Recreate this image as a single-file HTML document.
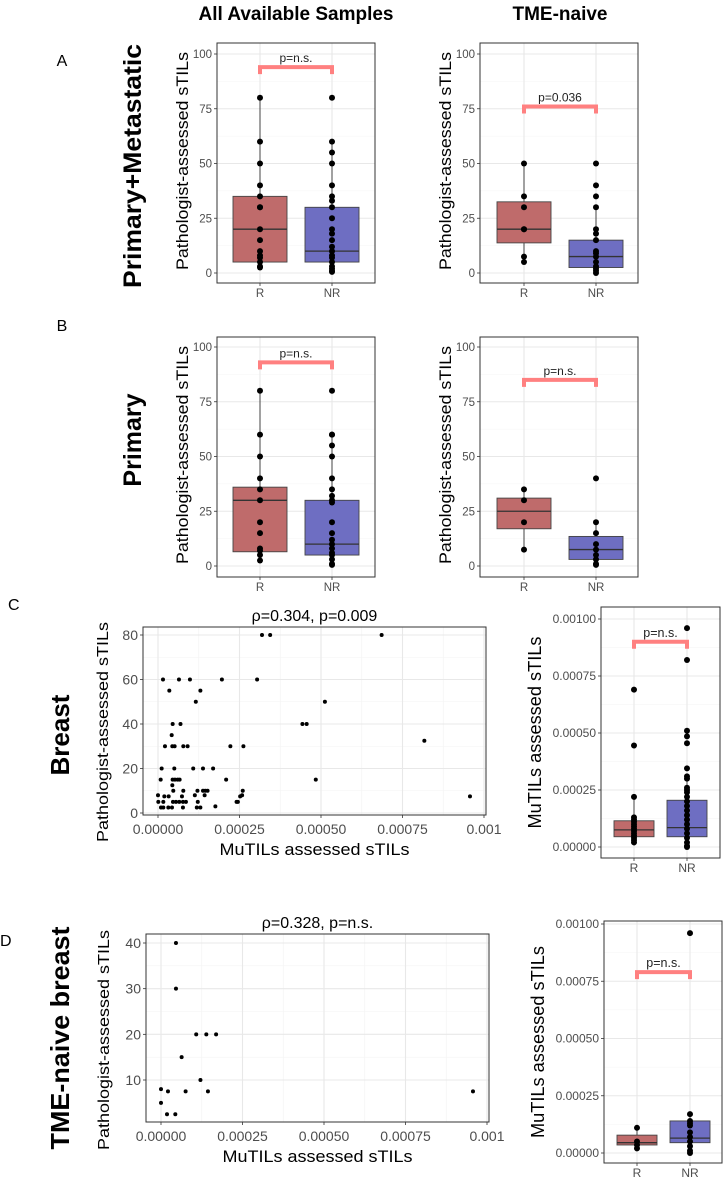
<!DOCTYPE html>
<html><head><meta charset="utf-8"><style>
html,body{margin:0;padding:0;background:#fff}
svg{display:block;font-family:"Liberation Sans",sans-serif}
</style></head><body>
<svg id="fig" width="723" height="1180" viewBox="0 0 723 1180" xmlns="http://www.w3.org/2000/svg">
<text x="296" y="20" font-size="19" font-weight="bold" text-anchor="middle">All Available Samples</text>
<text x="560" y="20" font-size="19" font-weight="bold" text-anchor="middle">TME-naive</text>
<text x="62" y="66" font-size="16" text-anchor="middle">A</text>
<text x="62" y="331" font-size="16" text-anchor="middle">B</text>
<text x="8" y="610" font-size="16">C</text>
<text x="0" y="946" font-size="16">D</text>
<text transform="translate(141,166) rotate(-90)" font-size="25" font-weight="bold" text-anchor="middle" textLength="244" lengthAdjust="spacingAndGlyphs">Primary+Metastatic</text>
<text transform="translate(141,440) rotate(-90)" font-size="25" font-weight="bold" text-anchor="middle">Primary</text>
<text transform="translate(69,735) rotate(-90)" font-size="26" font-weight="bold" text-anchor="middle">Breast</text>
<text transform="translate(69,1038) rotate(-90)" font-size="26" font-weight="bold" text-anchor="middle" textLength="223" lengthAdjust="spacingAndGlyphs">TME-naive breast</text>
</svg>
<script>
// ---- boxplot data: stats = [whiskerLow, q1, median, q3, whiskerHigh]
const groupLabels = ["R","NR"];
const boxTicks = [0,25,50,75,100];
const boxTickLabels = ["0","25","50","75","100"];
const A1_R_stats = [2.5,5,20,35,80];
const A1_R_points = [80,60,50,40,35,30,30,20,15,10,8,7,5,3,2.5];
const A1_NR_stats = [0.5,5,10,30,60];
const A1_NR_points = [80,60,55,50,40,35,33,30,25,20,18,15,12,10,8,7,5,3,2,1,0.5];
const A1_p = ["p=n.s.", 94];
const A2_R_stats = [5,13.75,20,32.5,50];
const A2_R_points = [50,35,30,20,20,7.5,5];
const A2_NR_stats = [0,2.5,7.5,15,30];
const A2_NR_points = [50,40,35,30,20,18,15,10,9,7.5,5,3,2,1,0];
const A2_p = ["p=0.036", 76];
const B1_R_stats = [2.5,6.5,30,36,80];
const B1_R_points = [80,60,50,40,35,30,20,15,8,7,5,2.5];
const B1_NR_stats = [0.5,5,10,30,60];
const B1_NR_points = [80,60,60,55,50,40,35,32,30,29,20,15,12,10,8,6,5,3,1,0.5];
const B1_p = ["p=n.s.", 93];
const B2_R_stats = [7.5,17,25,31,35];
const B2_R_points = [35,30,20,7.5];
const B2_NR_stats = [0.5,3,7.5,13.5,20];
const B2_NR_points = [40,20,15,10,7.5,5,3,1,0.5];
const B2_p = ["p=n.s.", 85];
const mutTicks = [0,0.00025,0.0005,0.00075,0.001];
const mutTickLabels = ["0.00000","0.00025","0.00050","0.00075","0.00100"];
const C_R_stats = [0.00002,0.000045,0.000075,0.000115,0.00022];
const C_R_points = [0.00069,0.000445,0.00022,0.00013,0.00012,0.00011,0.0001,0.00009,0.00008,0.00007,0.00006,0.00005,0.00004,0.00003,0.00002];
const C_NR_stats = [0,0.000045,0.000085,0.000205,0.00031];
const C_NR_points = [0.00096,0.00082,0.00051,0.000485,0.000455,0.000345,0.00031,0.0003,0.00026,0.00025,0.00024,0.00022,0.0002,0.00018,0.00016,0.00014,0.00012,0.0001,0.00008,0.00006,0.00004,0.00002,0.000005,0];
const C_p = ["p=n.s.", 0.0009];
const D_R_stats = [0.00002,0.000035,0.000045,0.000078,0.00011];
const D_R_points = [0.00011,0.00005,0.000035,0.00002];
const D_NR_stats = [0,0.000045,0.000065,0.00014,0.00017];
const D_NR_points = [0.00096,0.00017,0.00014,0.00013,0.00012,0.00009,0.00007,0.00005,0.00003,0.00001,0];
const D_p = ["p=n.s.", 0.00079];
// ---- scatter data
const C_x = [0.000319,0.000344,0.000686,0.0000153,0.0000643,0.000098,0.000196,0.000304,0.0000347,0.00013,0.000116,0.000512,0.000045,0.000069,0.000443,0.000456,0.000042,0.000817,0.0000214,0.0000439,0.000051,0.0000776,0.0000908,0.000222,0.000262,0.0000112,0.00005,0.000108,0.000138,0.000169,0.0000082,0.0000449,0.000052,0.0000602,0.0000663,0.000209,0.000484,0.0000439,0.0000469,0.0000776,0.000121,0.000138,0.000145,0.000152,0.00026,0,0.0000194,0.0000327,0.0000735,0.000113,0.000143,0.000245,0.000252,0.000258,0.000001,0.0000163,0.0000459,0.0000551,0.0000653,0.0000765,0.0000857,0.000122,0.000241,0.0000092,0.0000163,0.0000316,0.0000429,0.0000765,0.000119,0.00013,0.000176,0.000957];
const C_y = [80,80,80,60,60,60,60,60,55,55,50,50,40,40,40,40,35,32.5,30,30,30,30,30,30,30,20,20,20,20,20,15,15,15,15,15,15,15,12.5,10,10,10,10,10,10,10,8,7.5,7.5,7.5,8,8,5,7.5,8,5,5,5,5,5,5,5,5,5,2.5,2.5,2.5,2.5,2.5,2.5,2.5,3,7.5];
const D_x = [0.0000459,0.0000459,0.000108,0.000139,0.000169,0.0000633,0.000121,0,0.0000214,0.0000755,0.000144,0.000957,0,0.0000184,0.0000439];
const D_y = [40,30,20,20,20,15,10,8,7.5,7.5,7.5,7.5,5,2.5,2.5];
const sxTicks = [0,0.00025,0.0005,0.00075,0.001];
const sxTickLabels = ["0.00000","0.00025","0.00050","0.00075","0.001"];
const C_yTicks = [0,20,40,60,80];
const D_yTicks = [10,20,30,40];
const C_title = "ρ=0.304, p=0.009";
const D_title = "ρ=0.328, p=n.s.";

const NS="http://www.w3.org/2000/svg";
const svg=document.getElementById('fig');
function el(tag,attrs,parent){const e=document.createElementNS(NS,tag);for(const k in attrs)e.setAttribute(k,attrs[k]);(parent||svg).appendChild(e);return e;}
function lin(v0,p0,v1,p1){return v=>p0+(v-v0)*(p1-p0)/(v1-v0);}

function boxPanel(name,geo,stats,points,pval,ticks,tickLabels,fs,r,bw,ytitle,ytx,ytfs,ytlen){
  const g=el('g',{});
  
  
  const y=lin(geo.va,geo.pa,geo.vb,geo.pb);
  const bg=el('rect',{x:geo.x0,y:geo.y0,width:geo.x1-geo.x0,height:geo.y1-geo.y0,fill:'#fff'},g);
  
  
  for(let i=0;i<ticks.length-1;i++){const m=(ticks[i]+ticks[i+1])/2;
    const gl=el('line',{x1:geo.x0,x2:geo.x1,y1:y(m),y2:y(m),stroke:'#f4f4f4','stroke-width':0.6},g);
    
    }
  ticks.forEach((t,i)=>{
    const gl=el('line',{x1:geo.x0,x2:geo.x1,y1:y(t),y2:y(t),stroke:'#e8e8e8','stroke-width':1.1},g);
    
    
    const tk=el('line',{x1:geo.x0-3,x2:geo.x0,y1:y(t),y2:y(t),stroke:'#333','stroke-width':0.8},g);
    
    
    const tl=el('text',{x:geo.x0-5,y:y(t)+fs*0.35,'font-size':fs,fill:'#4d4d4d','text-anchor':'end'},g);
    tl.textContent=tickLabels[i];
    
    
  });
  geo.cx.forEach((cx,i)=>{
    const gl=el('line',{x1:cx,x2:cx,y1:geo.y0,y2:geo.y1,stroke:'#e8e8e8','stroke-width':1.1},g);
    
    
    const tk=el('line',{x1:cx,x2:cx,y1:geo.y1,y2:geo.y1+3,stroke:'#333','stroke-width':0.8},g);
    
    
    const tl=el('text',{x:cx,y:geo.y1+14,'font-size':fs,fill:'#4d4d4d','text-anchor':'middle'},g);
    tl.textContent=groupLabels[i];
    
    
    const s=stats[i];
    const col=i===0?'#bf6b6b':'#6e6ec2';
    const w=el('line',{x1:cx,x2:cx,y1:y(s[0]),y2:y(s[4]),stroke:'#333','stroke-width':0.9},g);
    
    
    const b=el('rect',{x:cx-bw,y:y(s[3]),width:2*bw,height:y(s[1])-y(s[3]),fill:col,stroke:'#444','stroke-width':0.9},g);
    
    
    const md=el('line',{x1:cx-bw,x2:cx+bw,y1:y(s[2]),y2:y(s[2]),stroke:'#333','stroke-width':1.3},g);
    
    
    points[i].forEach(v=>{
      const c=el('circle',{cx:cx,cy:y(v),r:r,fill:'#000'},g);
      
      
    });
  });
  const by=y(pval[1]);
  const br=el('path',{d:`M${geo.cx[0]} ${by+7}V${by}H${geo.cx[1]}V${by+7}`,fill:'none',stroke:'#ff8080','stroke-width':4},g);
  
  
  const pt=el('text',{x:(geo.cx[0]+geo.cx[1])/2,y:by-5,'font-size':fs+0.5,fill:'#222','text-anchor':'middle'},g);
  pt.textContent=pval[0];
  
  
  const bd=el('rect',{x:geo.x0,y:geo.y0,width:geo.x1-geo.x0,height:geo.y1-geo.y0,fill:'none',stroke:'#333','stroke-width':1},g);
  
  
  const yt=el('text',{transform:`translate(${ytx},${geo.ytc||(geo.y0+geo.y1)/2}) rotate(-90)`,'font-size':ytfs,fill:'#000','text-anchor':'middle',textLength:ytlen,lengthAdjust:'spacingAndGlyphs'},g);
  yt.textContent=ytitle;
  
  
}

const PT="Pathologist-assessed sTILs", MU="MuTILs assessed sTILs";
boxPanel('boxplot-a-all',{x0:217,x1:375,y0:43,y1:283,va:0,pa:273,vb:100,pb:54,cx:[260,332],ytc:161},[A1_R_stats,A1_NR_stats],[A1_R_points,A1_NR_points],A1_p,boxTicks,boxTickLabels,11.5,3,27,PT,188,17,218);
boxPanel('boxplot-a-tme-naive',{x0:480,x1:638,y0:43,y1:283,va:0,pa:273,vb:100,pb:54,cx:[524,596],ytc:161},[A2_R_stats,A2_NR_stats],[A2_R_points,A2_NR_points],A2_p,boxTicks,boxTickLabels,11.5,3,27,PT,451,17,218);
boxPanel('boxplot-b-all',{x0:217,x1:375,y0:337,y1:577,va:0,pa:566,vb:100,pb:347,cx:[260,332],ytc:455},[B1_R_stats,B1_NR_stats],[B1_R_points,B1_NR_points],B1_p,boxTicks,boxTickLabels,11.5,3,27,PT,188,17,218);
boxPanel('boxplot-b-tme-naive',{x0:480,x1:638,y0:337,y1:577,va:0,pa:566,vb:100,pb:347,cx:[524,596],ytc:455},[B2_R_stats,B2_NR_stats],[B2_R_points,B2_NR_points],B2_p,boxTicks,boxTickLabels,11.5,3,27,PT,451,17,218);
boxPanel('boxplot-c-mutils',{x0:601,x1:720,y0:607,y1:858,va:0,pa:847,vb:0.001,pb:619,cx:[634,687]},[C_R_stats,C_NR_stats],[C_R_points,C_NR_points],C_p,mutTicks,mutTickLabels,12,3,20,MU,541,18,192);
boxPanel('boxplot-d-mutils',{x0:604,x1:722,y0:921,y1:1163,va:0,pa:1153,vb:0.001,pb:924,cx:[637,690]},[D_R_stats,D_NR_stats],[D_R_points,D_NR_points],D_p,mutTicks,mutTickLabels,12,3,20,MU,544,18,192);

function scatter(name,geo,xs,ys,yTicks,title){
  const g=el('g',{});
  
  
  const x=lin(0,geo.px0,0.001,geo.px1), y=lin(geo.va,geo.pa,geo.vb,geo.pb);
  const bg=el('rect',{x:geo.x0,y:geo.y0,width:geo.x1-geo.x0,height:geo.y1-geo.y0,fill:'#fff'},g);
  
  
  for(let i=0;i<sxTicks.length-1;i++){const m=(sxTicks[i]+sxTicks[i+1])/2;
    const gl=el('line',{x1:x(m),x2:x(m),y1:geo.y0,y2:geo.y1,stroke:'#f3f3f3','stroke-width':0.6},g);
    
    }
  for(let i=0;i<yTicks.length-1;i++){const m=(yTicks[i]+yTicks[i+1])/2;
    const gl=el('line',{x1:geo.x0,x2:geo.x1,y1:y(m),y2:y(m),stroke:'#f3f3f3','stroke-width':0.6},g);
    
    }
  sxTicks.forEach((t,i)=>{
    const gl=el('line',{x1:x(t),x2:x(t),y1:geo.y0,y2:geo.y1,stroke:'#e8e8e8','stroke-width':1.1},g);
    
    
    const tk=el('line',{x1:x(t),x2:x(t),y1:geo.y1,y2:geo.y1+3,stroke:'#333','stroke-width':0.8},g);
    
    
    const tl=el('text',{x:x(t),y:geo.y1+19,'font-size':14,fill:'#4d4d4d','text-anchor':'middle'},g);
    tl.textContent=sxTickLabels[i];
    
    
  });
  yTicks.forEach(t=>{
    const gl=el('line',{x1:geo.x0,x2:geo.x1,y1:y(t),y2:y(t),stroke:'#e8e8e8','stroke-width':1.1},g);
    
    
    const tk=el('line',{x1:geo.x0-3,x2:geo.x0,y1:y(t),y2:y(t),stroke:'#333','stroke-width':0.8},g);
    
    
    const tl=el('text',{x:geo.x0-5,y:y(t)+5,'font-size':14,fill:'#4d4d4d','text-anchor':'end'},g);
    tl.textContent=String(t);
    
    
  });
  xs.forEach((v,i)=>{
    const c=el('circle',{cx:x(v),cy:y(ys[i]),r:2,fill:'#000'},g);
    
    
  });
  const bd=el('rect',{x:geo.x0,y:geo.y0,width:geo.x1-geo.x0,height:geo.y1-geo.y0,fill:'none',stroke:'#333','stroke-width':1},g);
  
  
  const tt=el('text',{x:(geo.x0+geo.x1)/2,y:geo.y0-6,'font-size':16,fill:'#000','text-anchor':'middle'},g);
  tt.textContent=title;
  
  
  const xt=el('text',{x:(geo.x0+geo.x1)/2,y:geo.y1+40,'font-size':17,fill:'#000','text-anchor':'middle',textLength:190,lengthAdjust:'spacingAndGlyphs'},g);
  xt.textContent=MU;
  
  
  const yt=el('text',{transform:`translate(${geo.ytx},${geo.yty}) rotate(-90)`,'font-size':16,fill:'#000','text-anchor':'middle',textLength:220,lengthAdjust:'spacingAndGlyphs'},g);
  yt.textContent=PT;
  
  
}
scatter('scatter-c-breast',{x0:143,x1:486,y0:627,y1:815,px0:158,px1:484,va:0,pa:813,vb:80,pb:635,ytx:108,yty:732},C_x,C_y,C_yTicks,C_title);
scatter('scatter-d-tme-naive-breast',{x0:146,x1:489,y0:934,y1:1122,px0:161,px1:487,va:40,pa:943,vb:10,pb:1080,ytx:109,yty:1040},D_x,D_y,D_yTicks,D_title);
</script>
</body></html>
